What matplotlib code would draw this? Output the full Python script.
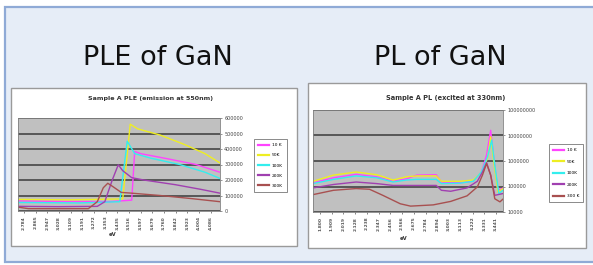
import matplotlib
matplotlib.use("Agg")
import matplotlib.pyplot as plt
from matplotlib.patches import Rectangle
from matplotlib.ticker import FixedLocator, FuncFormatter

# ---------------- data ----------------
series_labels_ple = ["10 K", "50K", "100K", "200K", "300K"]
series_labels_pl = ["10 K", "50K", "100K", "200K", "300 K"]
series_colors = ["#ff44ff", "#eeee22", "#33eeee", "#a040b0", "#a85050"]

# PLE (emission at 550nm): excitation energy (eV) vs intensity
ple_x_10k = [2.75, 3.02, 3.36, 3.51, 3.53, 3.57, 3.76, 3.94, 4.10]
ple_y_10k = [65000, 62000, 60000, 70000, 384000, 370000, 335000, 300000, 250000]
ple_x_50k = [2.75, 3.09, 3.45, 3.50, 3.55, 3.70, 3.86, 4.00, 4.10]
ple_y_50k = [75000, 72000, 78000, 560000, 530000, 490000, 430000, 370000, 310000]
ple_x_100k = [2.75, 3.16, 3.43, 3.48, 3.53, 3.64, 3.83, 4.00, 4.10]
ple_y_100k = [55000, 52000, 60000, 450000, 370000, 340000, 300000, 250000, 210000]
ple_x_200k = [2.75, 3.02, 3.28, 3.33, 3.38, 3.42, 3.45, 3.51, 3.59, 3.80, 3.97, 4.10]
ple_y_200k = [30000, 28000, 30000, 60000, 200000, 298000, 260000, 215000, 200000, 170000, 140000, 115000]
ple_x_300k = [2.75, 2.82, 3.22, 3.28, 3.32, 3.35, 3.38, 3.44, 3.51, 3.70, 3.91, 4.10]
ple_y_300k = [25000, 15000, 15000, 60000, 150000, 179000, 160000, 120000, 115000, 100000, 80000, 60000]
ple_ticklabels = ["2.784", "2.865", "2.947", "3.028", "3.109", "3.191", "3.272",
                  "3.353", "3.435", "3.516", "3.597", "3.679", "3.760", "3.842",
                  "3.923", "4.004", "4.086"]
ple_yticks = [0, 100000, 200000, 300000, 400000, 500000, 600000]

# PL (excited at 330nm): emission energy (eV) vs intensity (log)
pl_x_10k = [1.75, 1.95, 2.17, 2.37, 2.53, 2.66, 2.76, 2.95, 3.00, 3.18, 3.31, 3.39, 3.44, 3.48, 3.51, 3.55, 3.60]
pl_y_10k = [1.4e5, 2.2e5, 3.0e5, 2.4e5, 1.6e5, 2.0e5, 2.8e5, 2.9e5, 1.5e5, 1.4e5, 1.6e5, 3.7e5, 1.7e6, 1.6e7, 1.3e6, 7.1e4, 8.7e4]
pl_x_50k = [1.75, 1.95, 2.17, 2.37, 2.53, 2.66, 2.76, 2.95, 3.00, 3.18, 3.31, 3.39, 3.45, 3.48, 3.51, 3.55, 3.60]
pl_y_50k = [1.6e5, 2.8e5, 3.7e5, 2.9e5, 1.8e5, 2.4e5, 2.6e5, 2.6e5, 1.6e5, 1.6e5, 1.8e5, 3.5e5, 1.3e6, 8.9e6, 9.3e5, 6.1e4, 8.3e4]
pl_x_100k = [1.75, 1.95, 2.17, 2.37, 2.53, 2.66, 2.76, 2.95, 3.00, 3.18, 3.31, 3.39, 3.45, 3.49, 3.52, 3.56, 3.60]
pl_y_100k = [1.3e5, 1.9e5, 2.6e5, 2.2e5, 1.5e5, 1.8e5, 1.9e5, 1.9e5, 1.3e5, 1.35e5, 1.6e5, 3.7e5, 1.5e6, 6.6e6, 6.9e5, 5.3e4, 7.1e4]
pl_x_200k = [1.75, 1.95, 2.17, 2.37, 2.53, 2.76, 2.95, 3.00, 3.09, 3.25, 3.35, 3.40, 3.44, 3.48, 3.52, 3.60]
pl_y_200k = [8.8e4, 1.2e5, 1.5e5, 1.3e5, 1.1e5, 1.1e5, 1.1e5, 7.1e4, 6.5e4, 8.8e4, 1.6e5, 3.7e5, 8.7e5, 2.8e5, 4.5e4, 5.3e4]
pl_x_300k = [1.75, 1.95, 2.17, 2.30, 2.43, 2.60, 2.70, 2.92, 3.09, 3.25, 3.35, 3.40, 3.44, 3.48, 3.52, 3.57, 3.60]
pl_y_300k = [4.8e4, 7.1e4, 8.3e4, 7.8e4, 4.5e4, 2.1e4, 1.7e4, 1.9e4, 2.6e4, 4.3e4, 9.6e4, 2.8e5, 7.9e5, 2.8e5, 3.3e4, 2.5e4, 3.2e4]
pl_ticklabels = ["1.800", "1.909", "2.019", "2.128", "2.238", "2.347", "2.456", "2.566",
                 "2.675", "2.784", "2.894", "3.003", "3.113", "3.222", "3.331", "3.441"]
pl_yticks = [1e4, 1e5, 1e6, 1e7, 1e8]

# ---------------- figure ----------------
W, H = 593, 265
fig = plt.figure(figsize=(W / 100, H / 100), dpi=100)
fig.patch.set_facecolor("white")


def fx(px):
    return px / W


def fy(py):
    return 1 - py / H


def add_rect(x0, y0, x1, y1, z, **kw):
    fig.patches.append(Rectangle((fx(x0), fy(y1)), fx(x1) - fx(x0), fy(y0) - fy(y1),
                                 transform=fig.transFigure, zorder=z, **kw))


# slide panel
add_rect(5, 7, 600, 262, -3, facecolor="#e6edf7", edgecolor="#8faad6", linewidth=1.6)
# chart boxes
add_rect(11, 88, 297, 246, -2, facecolor="white", edgecolor="#9a9a9a", linewidth=1.0)
add_rect(308, 83, 586, 248, -2, facecolor="white", edgecolor="#9a9a9a", linewidth=1.0)

fig.text(fx(158), fy(58), "PLE of GaN", ha="center", va="center", fontsize=19.5,
         family="DejaVu Sans", color="#111111")
fig.text(fx(440), fy(58), "PL of GaN", ha="center", va="center", fontsize=19.5,
         family="DejaVu Sans", color="#111111")


def style_axes(ax):
    ax.set_zorder(2)
    ax.set_facecolor("#c0c0c0")
    for s in ax.spines.values():
        s.set_color("#808080")
        s.set_linewidth(0.6)
    ax.yaxis.tick_right()
    ax.tick_params(axis="y", length=1.5, width=0.4, labelsize=3.5, pad=1.5, colors="#444444")
    ax.tick_params(axis="x", length=1.5, width=0.5, labelsize=3.2, pad=2.0, colors="#555555",
                   labelrotation=90)
    ax.grid(axis="y", color="#3a3a3a", linewidth=1.1)
    ax.set_axisbelow(True)


# ---- PLE chart ----
ax1 = fig.add_axes([fx(18), fy(211), fx(220) - fx(18), fy(118) - fy(211)])
style_axes(ax1)
ple_sets = [(ple_x_10k, ple_y_10k), (ple_x_50k, ple_y_50k), (ple_x_100k, ple_y_100k),
            (ple_x_200k, ple_y_200k), (ple_x_300k, ple_y_300k)]
for (xs, ys), lab, col in zip(ple_sets, series_labels_ple, series_colors):
    ax1.plot(xs, ys, color=col, linewidth=1.0, label=lab)
ax1.set_xlim(2.75, 4.10)
ax1.set_ylim(0, 600000)
ax1.set_yticks(ple_yticks)
ax1.yaxis.set_major_formatter(FuncFormatter(lambda v, p: "%d" % v))
ple_tickpos = [2.75 + (i + 0.5) * (1.35 / 17.3) for i in range(len(ple_ticklabels))]
ax1.set_xticks(ple_tickpos)
ax1.set_xticklabels(ple_ticklabels, fontweight="bold")
leg1 = ax1.legend(loc="upper left", bbox_to_anchor=(fx(252), fy(137)),
                  bbox_transform=fig.transFigure, fontsize=3.2, frameon=True,
                  fancybox=False, edgecolor="#555555", handlelength=2.4,
                  borderpad=0.9, labelspacing=1.35, handletextpad=0.7)
leg1.get_frame().set_linewidth(0.6)
for ln in leg1.get_lines():
    ln.set_linewidth(1.6)
fig.text(fx(150), fy(99), "Sample A PLE (emission at 550nm)", ha="center", va="center",
         fontsize=4.6, fontweight="bold", color="#333333")
fig.text(fx(113), fy(235), "eV", ha="center", va="center", fontsize=3.8,
         fontweight="bold", color="#333333")

# ---- PL chart ----
ax2 = fig.add_axes([fx(313), fy(212), fx(503) - fx(313), fy(110) - fy(212)])
style_axes(ax2)
pl_sets = [(pl_x_10k, pl_y_10k), (pl_x_50k, pl_y_50k), (pl_x_100k, pl_y_100k),
           (pl_x_200k, pl_y_200k), (pl_x_300k, pl_y_300k)]
for (xs, ys), lab, col in zip(pl_sets, series_labels_pl, series_colors):
    ax2.plot(xs, ys, color=col, linewidth=1.0, label=lab)
ax2.set_yscale("log")
ax2.set_xlim(1.75, 3.60)
ax2.set_ylim(1e4, 1e8)
ax2.yaxis.set_major_locator(FixedLocator(pl_yticks))
ax2.yaxis.set_minor_locator(FixedLocator([]))
ax2.yaxis.set_major_formatter(FuncFormatter(lambda v, p: "%d" % round(v)))
pl_tickpos = [1.75 + (i + 0.6) * (1.85 / 16.2) for i in range(len(pl_ticklabels))]
ax2.set_xticks(pl_tickpos)
ax2.set_xticklabels(pl_ticklabels, fontweight="bold")
leg2 = ax2.legend(loc="upper left", bbox_to_anchor=(fx(547), fy(142)),
                  bbox_transform=fig.transFigure, fontsize=3.2, frameon=True,
                  fancybox=False, edgecolor="#555555", handlelength=2.4,
                  borderpad=0.9, labelspacing=1.65, handletextpad=0.7)
leg2.get_frame().set_linewidth(0.6)
for ln in leg2.get_lines():
    ln.set_linewidth(1.6)
fig.text(fx(446), fy(98), "Sample A PL (excited at 330nm)", ha="center", va="center",
         fontsize=4.8, fontweight="bold", color="#333333")
fig.text(fx(404), fy(238), "eV", ha="center", va="center", fontsize=3.8,
         fontweight="bold", color="#333333")

fig.savefig("out.png", dpi=100, facecolor="white")
